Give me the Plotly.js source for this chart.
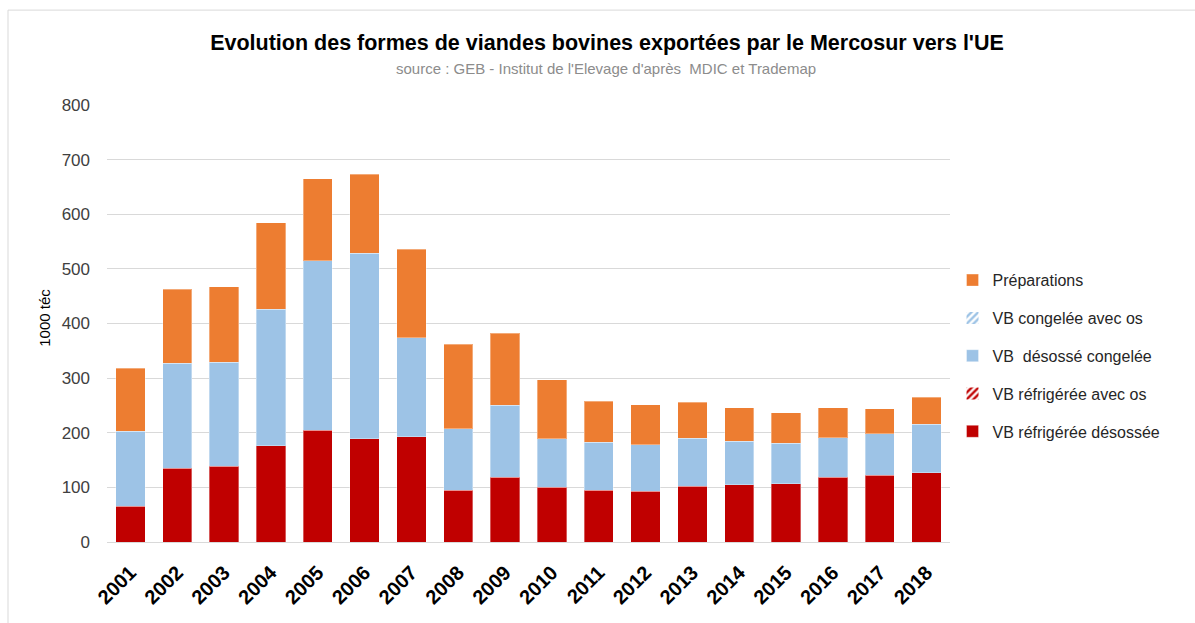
<!DOCTYPE html>
<html>
<head>
<meta charset="utf-8">
<script src="https://cdn.plot.ly/plotly-3.0.1.min.js"></script>
<style>html,body{margin:0;padding:0;background:#fff;}#chart{width:1195px;height:623px;}</style>
</head>
<body>
<div id="chart"></div>
<script>
const years = ['2001','2002','2003','2004','2005','2006','2007','2008','2009','2010','2011','2012','2013','2014','2015','2016','2017','2018'];
const refrigereeDesossee = [65,135,139,176,205,189,193,95,119,100,95,93,102,105,107,119,122,127];
const refrigereeAvecOs = [0,0,0,0,0,0,0,0,0,0,0,0,0,0,0,0,0,0];
const desosseCongelee = [138,192,190,250,310,340,181,112,131,89,88,85,88,79,74,72,76,89];
const congeleeAvecOs = [0,0,0,0,0,0,0,0,0,0,0,0,0,0,0,0,0,0];
const preparations = [115,136,138,158,150,144,162,155,132,108,75,73,66,62,56,55,46,49];
const seriesNames = ['VB réfrigérée désossée','VB réfrigérée avec os','VB  désossé congelée','VB congelée avec os','Préparations'];

const FONT = '"Liberation Sans Narrow", "Arial Narrow", "Liberation Sans", Arial, sans-serif';
const edge = {color:'rgba(255,255,255,0.35)', width:1};

const traces = [
  {type:'bar', x:years, y:refrigereeDesossee, name:seriesNames[0], legendgroup:'g1', legendrank:5,
   marker:{color:'#C00000', line:edge}},
  {type:'bar', x:years, y:refrigereeAvecOs, name:seriesNames[1], legendgroup:'g2', legendrank:4,
   marker:{color:'#ffffff', line:{width:0}, pattern:{shape:'/', fgcolor:'#C00000', bgcolor:'#ffffff', size:6, solidity:0.5}}},
  {type:'bar', x:years, y:desosseCongelee, name:seriesNames[2], legendgroup:'g3', legendrank:3,
   marker:{color:'#9DC3E6', line:edge}},
  {type:'bar', x:years, y:congeleeAvecOs, name:seriesNames[3], legendgroup:'g4', legendrank:2,
   marker:{color:'#ffffff', line:{width:0}, pattern:{shape:'/', fgcolor:'#9DC3E6', bgcolor:'#ffffff', size:6, solidity:0.5}}},
  {type:'bar', x:years, y:preparations, name:seriesNames[4], legendgroup:'g5', legendrank:1,
   marker:{color:'#ED7D31', line:edge}}
];

const layout = {
  width:1195, height:623,
  margin:{l:107, r:245, t:105, b:80.5, autoexpand:false},
  paper_bgcolor:'#ffffff', plot_bgcolor:'#ffffff',
  barmode:'stack', bargap:0.375,
  font:{family:FONT, color:'#404040'},
  title:{text:"Evolution des formes de viandes bovines exportées par le Mercosur vers l'UE",
         font:{family:FONT, size:21.5, color:'#000000', weight:'bold'},
         xref:'container', x:607/1195, xanchor:'center', yref:'container', y:1-42/623, yanchor:'middle'},
  xaxis:{type:'category', tickangle:-45, showgrid:false, zeroline:false, showline:false,
         ticks:'', ticklabelstandoff:14, tickfont:{family:FONT, size:20, color:'#000000', weight:'bold'}, automargin:false},
  yaxis:{range:[0,800], dtick:100, showgrid:true, gridcolor:'#d9d9d9', gridwidth:1,
         zeroline:true, zerolinecolor:'#d9d9d9', zerolinewidth:1, showline:false, ticks:'',
         ticklabelstandoff:16,
         tickfont:{family:FONT, size:17, color:'#404040'}, automargin:false, fixedrange:true},
  legend:{x:1.003, xanchor:'left', y:0.638, yanchor:'top', traceorder:'grouped', tracegroupgap:14,
          font:{family:FONT, size:16, color:'#262626'}, bgcolor:'rgba(0,0,0,0)', itemwidth:30},
  annotations:[
    {text:"source : GEB - Institut de l'Elevage d'après  MDIC et Trademap", xref:'paper', yref:'paper',
     x:(606-107)/843, y:(542.5-68)/437.5, xanchor:'center', yanchor:'middle', showarrow:false,
     font:{family:FONT, size:15, color:'#8c8c8c'}},
    {text:'1000 téc', xref:'paper', yref:'paper', x:(45-107)/843, y:(542.5-318)/437.5, textangle:-90,
     xanchor:'center', yanchor:'middle', showarrow:false, font:{family:FONT, size:15, color:'#000000'}}
  ],
  shapes:[
    {type:'line', xref:'paper', yref:'paper', x0:(8-107)/843, x1:(8-107)/843, y0:(542.5-10)/437.5, y1:(542.5-640)/437.5,
     line:{color:'#d9d9d9', width:1}},
    {type:'line', xref:'paper', yref:'paper', x0:(8-107)/843, x1:(1220-107)/843, y0:(542.5-10)/437.5, y1:(542.5-10)/437.5,
     line:{color:'#d9d9d9', width:1}}
  ],
  showlegend:true
};

Plotly.newPlot('chart', traces, layout, {displayModeBar:false, staticPlot:true});
</script>
</body>
</html>
